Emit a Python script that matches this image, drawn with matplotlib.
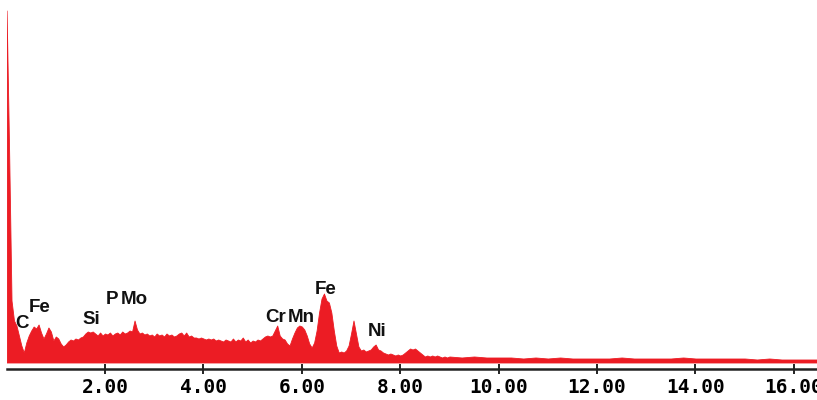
import numpy as np
import matplotlib
matplotlib.use("Agg")
import matplotlib.pyplot as plt

# EDS spectrum, energy in keV, counts in arbitrary units
energy_low = np.round(np.arange(0, 9.001, 0.05), 2)
counts_low = [
    352, 215, 62, 42, 37, 27, 17, 10, 20, 27,
    32, 36, 34, 38, 30, 24, 29, 35, 31, 22,
    26, 24, 19, 16, 18, 21, 23, 22, 24, 23,
    25, 26, 29, 31, 30, 31, 29, 27, 30, 27,
    29, 28, 30, 27, 29, 30, 28, 31, 29, 30,
    32, 31, 42, 33, 29, 30, 28, 29, 27, 28,
    26, 29, 27, 28, 26, 29, 27, 28, 26, 27,
    29, 30, 27, 30, 26, 27, 25, 25, 24, 25,
    24, 23, 24, 23, 24, 22, 23, 22, 21, 23,
    22, 21, 24, 21, 23, 22, 25, 21, 23, 20,
    22, 21, 23, 22, 24, 26, 27, 26, 27, 32,
    37, 27, 24, 23, 19, 17, 24, 30, 35, 37,
    36, 33, 27, 19, 15, 20, 32, 50, 64, 69,
    62, 60, 50, 32, 17, 10, 11, 10, 12, 17,
    29, 42, 29, 16, 12, 13, 11, 12, 13, 16,
    18, 13, 12, 10, 9, 8, 9, 8, 7, 8,
    7, 8, 10, 12, 14, 13, 14, 12, 10, 8,
    6, 7, 6, 7, 6, 7, 6, 5, 6, 5,
    6,
]
energy_high = [9.25, 9.5, 9.75, 10.0, 10.25, 10.5, 10.75, 11.0, 11.25, 11.5,
               11.75, 12.0, 12.25, 12.5, 12.75, 13.0, 13.25, 13.5, 13.75, 14.0,
               14.25, 14.5, 14.75, 15.0, 15.25, 15.5, 15.75, 16.0, 16.25, 16.5]
counts_high = [5, 6, 5, 5, 5, 4, 5, 4, 5, 4,
               4, 4, 4, 5, 4, 4, 4, 4, 5, 4,
               4, 4, 4, 4, 3, 4, 3, 3, 3, 3]

energy = np.concatenate([energy_low, energy_high])
counts = np.concatenate([counts_low, counts_high])

# element labels (text, energy of left edge, count at baseline)
elements = ["C", "Fe", "Si", "P", "Mo", "Cr", "Mn", "Fe", "Ni"]
label_x = [0.17, 0.46, 1.55, 2.02, 2.31, 5.25, 5.72, 6.27, 7.33]
label_y = [34, 51, 39, 59, 59, 41, 41, 69, 27]

tick_pos = [2, 4, 6, 8, 10, 12, 14, 16]
tick_labels = ["2.00", "4.00", "6.00", "8.00", "10.00", "12.00", "14.00", "16.00"]

red = "#ec1c24"

fig = plt.figure(figsize=(8.17, 4.0), dpi=100)
ax = fig.add_axes([6.6 / 817, 31.5 / 400, 1 - 6.6 / 817, 368.5 / 400])

ax.fill_between(energy, 0, counts, color=red, linewidth=0.6, edgecolor=red)

for name, x, y in zip(elements, label_x, label_y):
    ax.text(x, y, name, fontsize=13.5, fontfamily="Liberation Sans",
            fontweight="bold", color="#111111", va="baseline", ha="left")

ax.set_xlim(0, 16.47)
ax.set_ylim(-6, 362.5)

for s in ["top", "right", "left"]:
    ax.spines[s].set_visible(False)
ax.spines["bottom"].set_linewidth(1.8)
ax.spines["bottom"].set_color("#222222")

ax.set_yticks([])
ax.set_xticks(tick_pos)
ax.set_xticklabels(tick_labels, fontfamily="DejaVu Sans Mono",
                   fontweight="bold", fontsize=14)
ax.tick_params(axis="x", direction="inout", length=7, width=1.4,
               color="#222222", pad=3)

fig.savefig("out.png", dpi=100)
